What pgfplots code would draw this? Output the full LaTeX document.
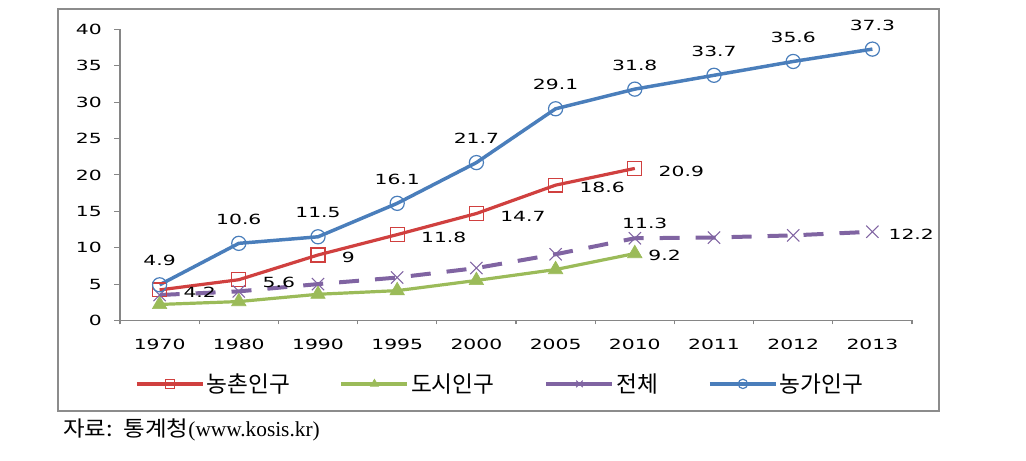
\documentclass[border=0pt]{standalone}
\usepackage{pgfplots}
\pgfplotsset{compat=1.18}
\usepackage{fontspec}
\setmainfont{DejaVu Sans}
\newfontfamily\numfont[FakeStretch=1.45]{DejaVu Sans}
\newfontfamily\kr{Noto Sans CJK KR}
\newfontfamily\krsrc[FakeStretch=1.1]{Noto Sans CJK KR}
\newfontfamily\srcfont{Liberation Serif}
\definecolor{cblue}{HTML}{4A7EBB}
\definecolor{cred}{HTML}{D0403F}
\definecolor{cgreen}{HTML}{9BBB59}
\definecolor{cpurple}{HTML}{8064A2}
\definecolor{axisgray}{HTML}{868686}
\definecolor{framegray}{HTML}{8C8C8C}
\begin{document}
\begin{tikzpicture}
\useasboundingbox (0,0) rectangle (769.5pt,345.75pt);
\draw[line width=1.5pt, draw=framegray] (43.3pt,37.5pt) rectangle (704.3pt,339pt);
\begin{axis}[
  at={(90pt,105.4pt)}, anchor=south west,
  scale only axis, width=594pt, height=218.25pt,
  xmin=-0.5, xmax=9.5, ymin=0, ymax=40,
  axis x line*=bottom, axis y line*=left,
  axis line style={draw=axisgray, line width=1pt},
  ytick={0,5,...,40},
  xtick={0,...,9},
  xticklabels={1970,1980,1990,1995,2000,2005,2010,2011,2012,2013},
  minor xtick={-0.5,0.5,...,9.5},
  tick align=outside,
  major tick length=4.5pt,
  minor tick length=3pt,
  tick style={draw=axisgray, line width=0.8pt},
  major x tick style={draw=none},
  /pgf/number format/assume math mode=true,
  ticklabel style={font=\numfont\fontsize{10.5}{12}\selectfont, text=black},
  yticklabel style={anchor=east, inner sep=0pt, xshift=-9pt},
  xticklabel style={anchor=north, inner sep=0pt, yshift=-9pt},
  clip=false,
  legend columns=4,
  legend style={at={(0.48,-0.218)}, anchor=center, draw=none, fill=none,
    font=\kr\fontsize{17}{20}\selectfont,
    nodes={inner xsep=1.5pt},
    /tikz/every even column/.append style={column sep=36pt}},
  legend image code/.code={\draw[mark repeat=2,mark phase=2,#1,solid,mark size=3.5pt] plot coordinates {(0pt,0pt) (24.75pt,0pt) (49.5pt,0pt)};},
  every node near coord/.append style={font=\numfont\fontsize{10.5}{12}\selectfont, text=black, inner sep=0pt},
]
% 농촌인구
\addplot[cred, line width=2.4pt, mark=square, mark size=5.2pt, mark options={line width=0.9pt},
  point meta=explicit symbolic, nodes near coords={\pgfplotspointmeta},
  every node near coord/.append style={anchor=west, xshift=17.5pt, yshift=-2pt}]
  coordinates {(0,4.2)[4.2] (1,5.6)[5.6] (2,9)[9] (3,11.8)[11.8] (4,14.7)[14.7] (5,18.6)[18.6] (6,20.9)[20.9]};
\addlegendentry{농촌인구}
% 도시인구
\addplot[cgreen, line width=2.4pt, mark=triangle*, mark size=6.2pt, mark options={line width=0.5pt}]
  coordinates {(0,2.2) (1,2.6) (2,3.6) (3,4.1) (4,5.5) (5,7.0) (6,9.2)};
\addlegendentry{도시인구}
% 전체
\addplot[cpurple, line width=3pt, dash pattern=on 15pt off 12pt, mark=x, mark size=6.5pt, mark options={solid, line width=0.8pt}]
  coordinates {(0,3.5) (1,4.0) (2,5.0) (3,5.9) (4,7.2) (5,9.1) (6,11.3) (7,11.4) (8,11.7) (9,12.2)};
\addlegendentry{전체}
% 농가인구
\addplot[cblue, line width=2.6pt, mark=o, mark size=5.3pt, mark options={line width=0.9pt},
  point meta=explicit symbolic, nodes near coords={\pgfplotspointmeta},
  every node near coord/.append style={anchor=center, yshift=18pt}]
  coordinates {(0,4.9)[4.9] (1,10.6)[10.6] (2,11.5)[11.5] (3,16.1)[16.1] (4,21.7)[21.7] (5,29.1)[29.1] (6,31.8)[31.8] (7,33.7)[33.7] (8,35.6)[35.6] (9,37.3)[37.3]};
\addlegendentry{농가인구}
% single labels
\addplot[draw=none, mark=none, forget plot, point meta=explicit symbolic, nodes near coords={\pgfplotspointmeta},
  every node near coord/.append style={anchor=west, xshift=10pt, yshift=-1.5pt}]
  coordinates {(6,9.2)[9.2]};
\addplot[draw=none, mark=none, forget plot, point meta=explicit symbolic, nodes near coords={\pgfplotspointmeta},
  every node near coord/.append style={anchor=center, xshift=7.5pt, yshift=11pt}]
  coordinates {(6,11.3)[11.3]};
\addplot[draw=none, mark=none, forget plot, point meta=explicit symbolic, nodes near coords={\pgfplotspointmeta},
  every node near coord/.append style={anchor=west, xshift=12pt, yshift=-2pt}]
  coordinates {(9,12.2)[12.2]};
\end{axis}
\node[anchor=west, inner sep=0pt] at (47.25pt,23.25pt) {\krsrc\fontsize{16}{18}\selectfont 자료:\hspace{8pt}통계청\srcfont\fontsize{16}{18}\selectfont(www.kosis.kr)};
\end{tikzpicture}
\end{document}
